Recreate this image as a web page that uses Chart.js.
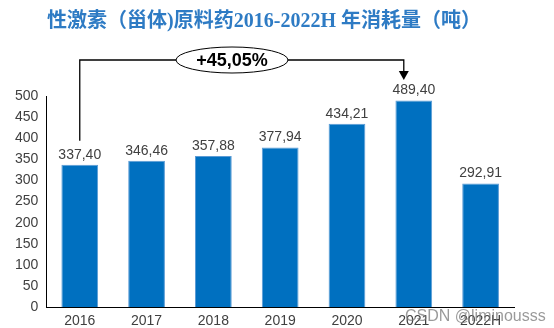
<!DOCTYPE html>
<html>
<head>
<meta charset="utf-8">
<script src="https://cdn.jsdelivr.net/npm/chart.js@4"></script>
<style>
  html, body { margin: 0; padding: 0; background: #fff; }
  #wrap { width: 554px; height: 328px; position: relative; }
</style>
</head>
<body>
<div id="wrap"><canvas id="steroidChart"></canvas></div>
<script>
// data
const years = ['2016', '2017', '2018', '2019', '2020', '2021', '2022H'];
const tons = [337.40, 346.46, 357.88, 377.94, 434.21, 489.40, 292.91];
const yTicks = [0, 50, 100, 150, 200, 250, 300, 350, 400, 450, 500];
const growthLabel = '+45,05%';
const titleText = '性激素（甾体)原料药2016-2022H 年消耗量（吨）';

const colorBar = '#0070C0';
const colorText = '#404040';

function fmt(v) {
    return v.toFixed(2).replace('.', ',');
}

// title, value labels and growth arrow
const decoPlugin = {
    id: 'deco',
    afterDatasetsDraw(chart) {
        const ctx = chart.ctx;
        const x = chart.scales.x;
        const y = chart.scales.y;
        const meta = chart.getDatasetMeta(0);

        ctx.save();
        // title
        ctx.fillStyle = '#2E7BC4';
        ctx.font = 'bold 20px "Liberation Serif", "Noto Sans CJK SC", serif';
        ctx.textAlign = 'center';
        ctx.textBaseline = 'middle';
        ctx.fillText(titleText, 264, 22);

        // values above bars
        ctx.fillStyle = colorText;
        ctx.font = '14px "Liberation Sans", Arial, sans-serif';
        ctx.textBaseline = 'bottom';
        meta.data.forEach((bar, i) => {
            ctx.fillText(fmt(tons[i]), bar.x, bar.y - 3);
        });

        // growth arrow from first to 2021
        const x0 = x.getPixelForValue(0);
        const x1 = x.getPixelForValue(5);
        const lineY = 60;
        ctx.strokeStyle = '#000';
        ctx.lineWidth = 1.3;
        ctx.beginPath();
        ctx.moveTo(x0, y.getPixelForValue(tons[0]) - 24);
        ctx.lineTo(x0, lineY);
        ctx.lineTo(x1 - 10, lineY);
        ctx.lineTo(x1 - 10, 72);
        ctx.stroke();
        ctx.fillStyle = '#000';
        ctx.beginPath();
        ctx.moveTo(x1 - 15, 71);
        ctx.lineTo(x1 - 5, 71);
        ctx.lineTo(x1 - 10, 80);
        ctx.closePath();
        ctx.fill();

        // ellipse with growth text
        const ex = 232, ey = 60;
        ctx.fillStyle = '#fff';
        ctx.beginPath();
        ctx.ellipse(ex, ey, 56, 13, 0, 0, Math.PI * 2);
        ctx.fill();
        ctx.lineWidth = 1;
        ctx.stroke();
        ctx.fillStyle = '#000';
        ctx.font = 'bold 18px "Liberation Sans", Arial, sans-serif';
        ctx.textBaseline = 'middle';
        ctx.fillText(growthLabel, ex, ey + 1);

        // watermark
        ctx.fillStyle = 'rgba(120,120,120,0.75)';
        ctx.font = '16px "Liberation Sans", Arial, sans-serif';
        ctx.textAlign = 'left';
        ctx.textBaseline = 'middle';
        ctx.fillText('CSDN @liminousss', 405, 317);
        ctx.restore();
    }
};

new Chart(document.getElementById('steroidChart').getContext('2d'), {
    type: 'bar',
    data: {
        labels: years,
        datasets: [{
            data: tons,
            backgroundColor: colorBar,
            borderColor: '#5B9BD5',
            borderWidth: 1,
            barPercentage: 0.55,
            categoryPercentage: 1.0
        }]
    },
    options: {
        responsive: true,
        maintainAspectRatio: false,
        animation: false,
        layout: { padding: { top: 96, left: 12, right: 40, bottom: 0 } },
        scales: {
            y: {
                min: 0,
                max: 500,
                afterBuildTicks(axis) {
                    axis.ticks = yTicks.map(v => ({ value: v }));
                },
                grid: { display: false, drawTicks: true, tickLength: 5, color: '#000' },
                border: { display: true, color: '#000', width: 1 },
                ticks: { color: colorText, font: { family: 'Liberation Sans', size: 14 }, padding: 3 }
            },
            x: {
                grid: { display: false },
                border: { display: true, color: '#000', width: 1 },
                ticks: { color: colorText, font: { family: 'Liberation Sans', size: 14 }, padding: -2 }
            }
        },
        plugins: {
            legend: { display: false },
            tooltip: { enabled: false }
        }
    },
    plugins: [decoPlugin]
});
</script>
</body>
</html>
